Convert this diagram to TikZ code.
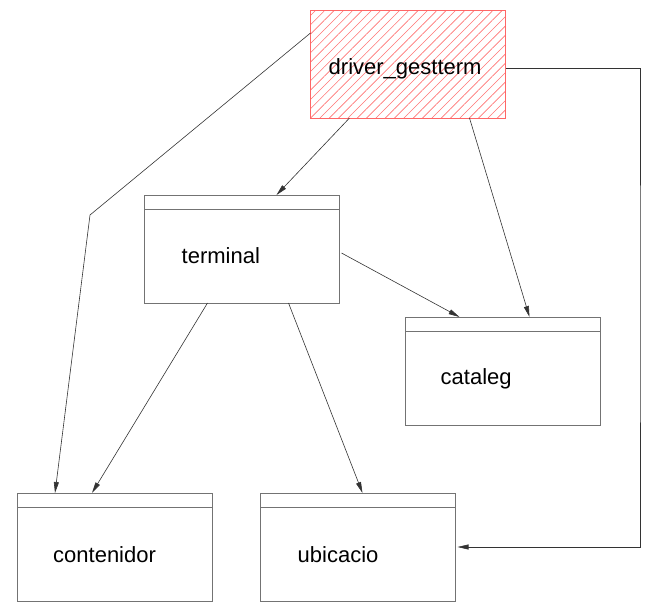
\documentclass[tikz,border=0pt]{standalone}
\usepackage{fontspec}
\setmainfont{Liberation Sans}
\usetikzlibrary{arrows.meta,patterns.meta}

\begin{document}
\begin{tikzpicture}[
    x=1pt, y=-1pt,
    cls/.style={draw=black!55, line width=0.8pt, rectangle, inner sep=0pt, outer sep=0pt,
      minimum width=195pt, minimum height=108pt},
    drv/.style={cls, draw=red!60,
      pattern={Lines[angle=45,distance=6.6pt,line width=0.6pt]}, pattern color=red!55},
    lbl/.style={anchor=base west, inner sep=0pt, font=\fontsize{22}{26}\selectfont},
    arr/.style={draw=black!80, line width=0.6pt, -{Triangle[length=11pt,width=5pt]}},
  ]
  \useasboundingbox (0,0) rectangle (662,606);

  \node[drv] (driver) at (408,64) {};
  \node[cls] (terminal) at (242,249) {};
  \node[cls] (cataleg) at (503,371) {};
  \node[cls] (contenidor) at (114.5,547) {};
  \node[cls] (ubicacio) at (358,547) {};

  \foreach \b in {terminal,cataleg,contenidor,ubicacio}
    \draw[black!55, line width=0.8pt] ([yshift=-14pt]\b.north west) -- ([yshift=-14pt]\b.north east);

  \node[lbl] (driverlbl) at ([xshift=18pt,yshift=-10pt]driver.west) {driver\_gestterm};
  \node[lbl] (terminallbl) at ([xshift=37pt,yshift=-14pt]terminal.west) {terminal};
  \node[lbl] (catalegllbl) at ([xshift=35pt,yshift=-13pt]cataleg.west) {cataleg};
  \node[lbl] (contenidorlbl) at ([xshift=36pt,yshift=-15pt]contenidor.west) {contenidor};
  \node[lbl] (ubicaciolbl) at ([xshift=37pt,yshift=-15pt]ubicacio.west) {ubicacio};

  \coordinate (bend) at (90,215);
  \coordinate (rt) at (640,300);

  \draw[arr] ([yshift=-23pt]driver.north west) -- (bend) -- ([xshift=38pt]contenidor.north west);
  \draw[arr] ([xshift=39pt]driver.south west) -- ([xshift=132pt]terminal.north west);
  \draw[arr] ([xshift=159pt]driver.south west) -- ([xshift=124pt]cataleg.north west);
  \draw[arr] ([yshift=-4pt]driver.east) -| (rt) |- ([xshift=2pt]ubicacio.east);
  \draw[arr] ([xshift=2pt,yshift=-4pt]terminal.east) -- ([xshift=54pt]cataleg.north west);
  \draw[arr] ([xshift=63pt]terminal.south west) -- ([xshift=75pt]contenidor.north west);
  \draw[arr] ([xshift=144pt]terminal.south west) -- ([xshift=102pt]ubicacio.north west);
\end{tikzpicture}
\end{document}
